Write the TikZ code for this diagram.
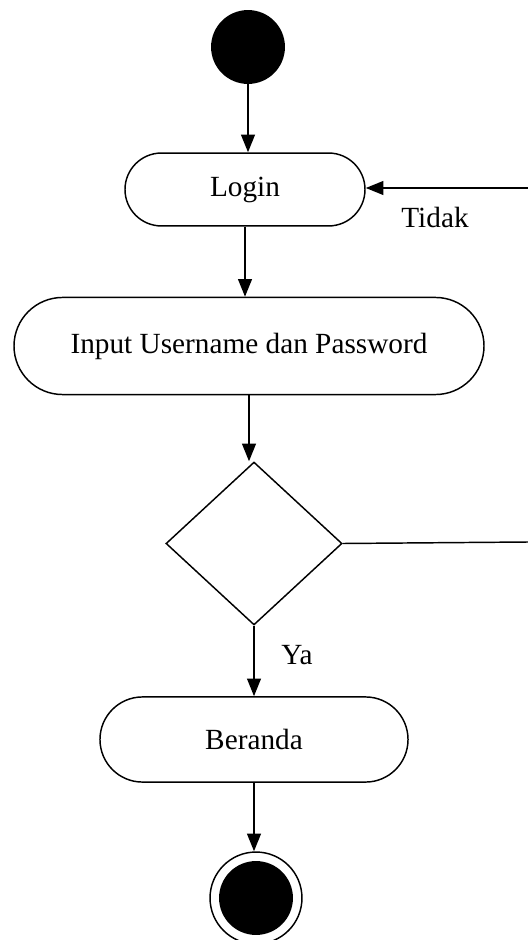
\documentclass[tikz,border=0pt]{standalone}
\usepackage{fontspec}
\setmainfont{Liberation Serif}
\usepackage{tikz}
\usetikzlibrary{shapes.misc,shapes.geometric,arrows.meta}

\begin{document}
\begin{tikzpicture}[
    x=0.41pt, y=-0.41pt,
    every node/.style={font=\fontsize{12}{14}\selectfont},
    activity/.style={draw, rounded rectangle, line width=0.6pt, inner sep=0pt},
    decision/.style={draw, diamond, line width=0.6pt, inner sep=0pt, minimum width=72.2pt, minimum height=66.8pt},
    initial/.style={circle, fill=black, inner sep=0pt, minimum size=30.3pt},
    final/.style={circle, draw, line width=0.6pt, inner sep=0pt, minimum size=37.7pt},
    arrow/.style={-{Triangle[length=7.2pt,width=5.6pt]}, line width=0.8pt},
    flow/.style={line width=0.6pt}
]
\useasboundingbox (0,0) rectangle (528,940);

% Start
\node[initial] (start) at (248,47) {};

% Activities
\node[activity, minimum width=98.4pt, minimum height=29.9pt] (login) at (245,189.5) {Login};
\node[activity, minimum width=192.7pt, minimum height=39.8pt] (input) at (249,346) {\raisebox{2pt}{Input Username dan Password}};
\node[decision] (cek) at (254,543.5) {};
\node[activity, minimum width=126.3pt, minimum height=34.9pt] (beranda) at (254,739.5) {Beranda};

% End
\node[final] (finish) at (256,898) {};
\node[initial] (finishdot) at (256,898) {};

% Loop back (cut at the right edge)
\coordinate (tidakin) at (528,188);
\coordinate (tidakout) at (528,542);

% Connections
\draw[arrow] (start.south) -- (start.south |- login.north);
\draw[arrow] (login.south) -- (login.south |- input.north);
\draw[arrow] (input.south) -- (input.south |- cek.north);
\draw[arrow] (cek.south) -- (cek.south |- beranda.north);
\draw[arrow] (beranda.south) -- (beranda.south |- finish.north);
\draw[flow] (cek.east) -- (tidakout);
\draw[arrow] (tidakin) -- (login.east |- tidakin);

% Labels
\node (tidak) at (435,217) {Tidak};
\node (ya) at (297,655) {Ya};

\end{tikzpicture}
\end{document}
